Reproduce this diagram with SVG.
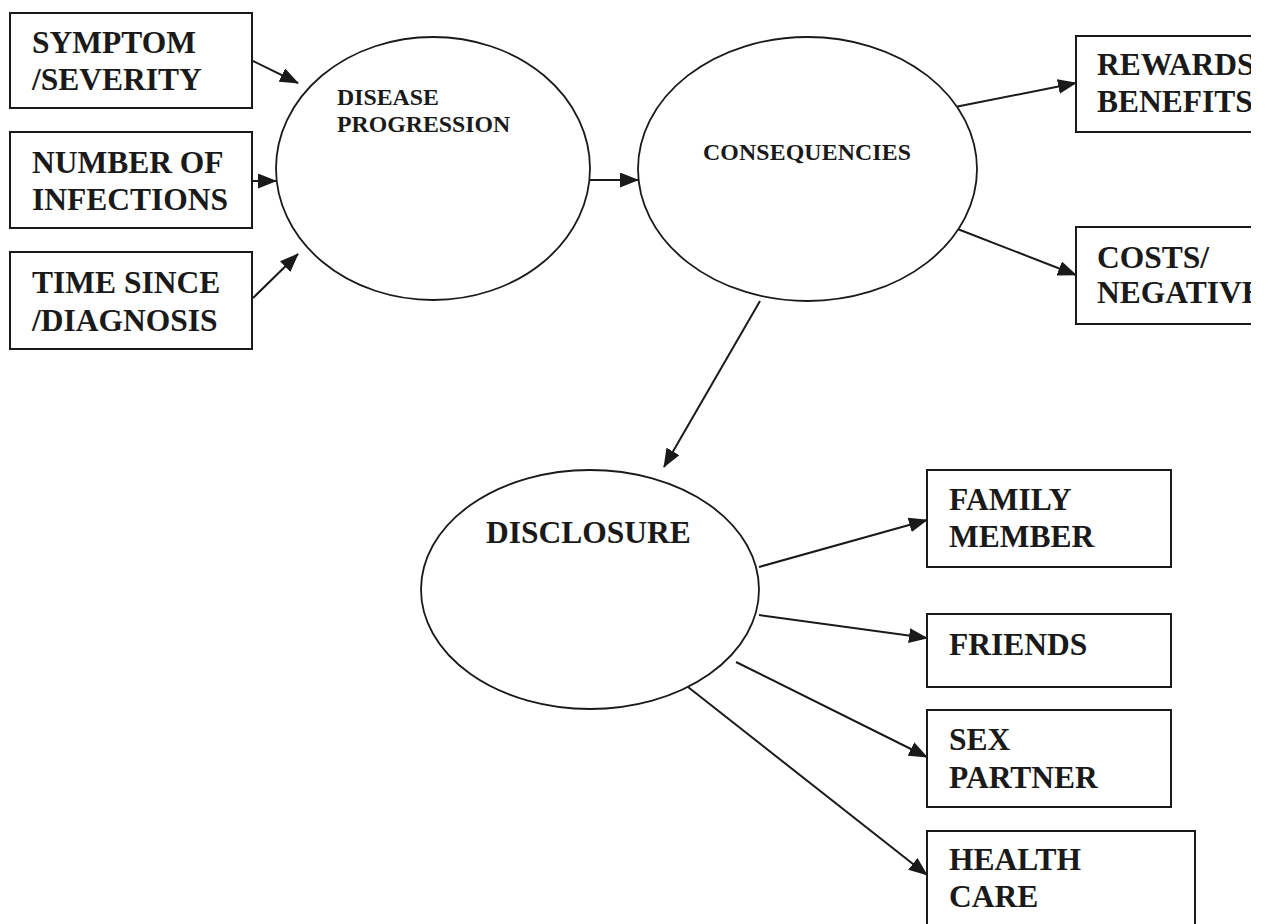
<svg xmlns="http://www.w3.org/2000/svg" width="1271" height="924" viewBox="0 0 1271 924">
<style>
.box{fill:#fff;stroke:#1a1a1a;stroke-width:2}
.ell{fill:#fff;stroke:#1a1a1a;stroke-width:1.8}
.t{font-family:"Liberation Serif","Times New Roman",serif;font-weight:bold;fill:#1a1a1a}
.big{font-size:31.5px}
.sm{font-size:23.8px}
.con{stroke:#1a1a1a;stroke-width:2;fill:none;marker-end:url(#ah)}
</style>
<defs>
<marker id="ah" markerUnits="userSpaceOnUse" markerWidth="19" markerHeight="15" refX="18" refY="7.5" orient="auto">
<path d="M0,0 L19,7.5 L0,15 Z" fill="#1a1a1a"/>
</marker>
<clipPath id="cr"><rect x="0" y="0" width="1251" height="924"/></clipPath>
</defs>
<rect width="1271" height="924" fill="#fff"/>
<g id="connectors">
<line class="con" x1="253" y1="61" x2="298" y2="83"/>
<line class="con" x1="253" y1="181" x2="276" y2="181"/>
<line class="con" x1="253" y1="298" x2="298" y2="254"/>
<line class="con" x1="590" y1="180" x2="638" y2="180"/>
<line class="con" x1="955" y1="107" x2="1076" y2="83"/>
<line class="con" x1="955" y1="228" x2="1076" y2="275"/>
<line class="con" x1="760" y1="301" x2="664" y2="467"/>
<line class="con" x1="759" y1="567" x2="927" y2="520"/>
<line class="con" x1="759" y1="615" x2="927" y2="638"/>
<line class="con" x1="736" y1="662" x2="927" y2="757"/>
<line class="con" x1="688" y1="687" x2="927" y2="875"/>
</g>
<g id="symptom"><rect class="box" x="10" y="13" width="242" height="95"/><text class="t big" x="32" y="53">SYMPTOM</text><text class="t big" x="32" y="90">/SEVERITY</text></g>
<g id="infections"><rect class="box" x="10" y="132" width="242" height="96"/><text class="t big" x="32" y="173">NUMBER OF</text><text class="t big" x="32" y="210">INFECTIONS</text></g>
<g id="time"><rect class="box" x="10" y="252" width="242" height="97"/><text class="t big" x="32" y="293">TIME SINCE</text><text class="t big" x="32" y="331">/DIAGNOSIS</text></g>
<g id="disease"><ellipse class="ell" cx="433" cy="168.5" rx="157" ry="131.5"/><text class="t sm" x="337" y="105">DISEASE</text><text class="t sm" x="337" y="132">PROGRESSION</text></g>
<g id="consequences"><ellipse class="ell" cx="807.5" cy="169" rx="169.5" ry="132"/><text class="t sm" x="703" y="160" textLength="208">CONSEQUENCIES</text></g>
<g id="rewards" clip-path="url(#cr)"><rect class="box" x="1076" y="36" width="200" height="96"/><text class="t big" x="1097" y="75">REWARDS</text><text class="t big" x="1097" y="112">BENEFITS</text></g>
<g id="costs" clip-path="url(#cr)"><rect class="box" x="1076" y="227" width="200" height="97"/><text class="t big" x="1097" y="268">COSTS/</text><text class="t big" x="1097" y="303">NEGATIVE</text></g>
<g id="disclosure"><ellipse class="ell" cx="590" cy="589.5" rx="169" ry="119.5"/><text class="t big" x="486" y="543">DISCLOSURE</text></g>
<g id="family"><rect class="box" x="927" y="470" width="244" height="97"/><text class="t big" x="949" y="510">FAMILY</text><text class="t big" x="949" y="547">MEMBER</text></g>
<g id="friends"><rect class="box" x="927" y="614" width="244" height="73"/><text class="t big" x="949" y="655">FRIENDS</text></g>
<g id="sex"><rect class="box" x="927" y="710" width="244" height="97"/><text class="t big" x="949" y="750">SEX</text><text class="t big" x="949" y="788">PARTNER</text></g>
<g id="health"><rect class="box" x="927" y="831" width="268" height="110"/><text class="t big" x="949" y="870">HEALTH</text><text class="t big" x="949" y="907">CARE</text></g>
</svg>
